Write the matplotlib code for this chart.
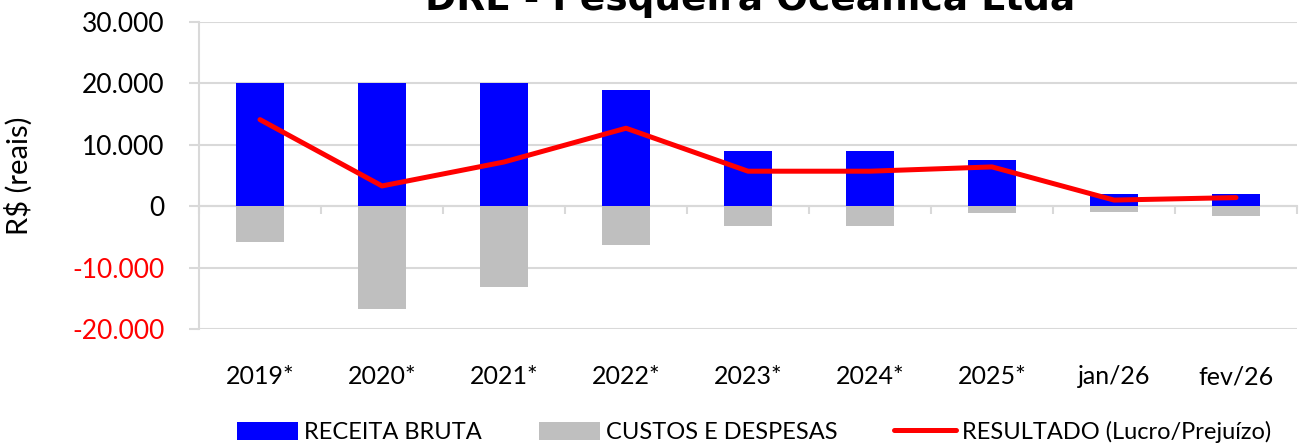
import matplotlib
matplotlib.use("Agg")
import matplotlib.pyplot as plt
import matplotlib.ticker as mticker
import numpy as np

# values (R$)
categorias = ["2019*", "2020*", "2021*", "2022*", "2023*", "2024*", "2025*", "jan/26", "fev/26"]
receita_bruta = [20000, 20000, 20000, 19000, 9000, 9000, 7500, 2000, 2000]
custos_despesas = [-5900, -16700, -13100, -6400, -3300, -3300, -1100, -1000, -1600]
resultado = [14100, 3300, 7200, 12700, 5700, 5700, 6400, 1000, 1400]

plt.rcParams["font.family"] = ["Lato", "DejaVu Sans"]

fig = plt.figure(figsize=(13.03, 4.45), dpi=100)
ax = fig.add_axes([199 / 1303, 1 - 329 / 445, (1297 - 199) / 1303, (329 - 22) / 445])

x = np.arange(len(categorias))
b1 = ax.bar(x, receita_bruta, width=0.4, color="#0000FF", label="RECEITA BRUTA", zorder=2)
b2 = ax.bar(x, custos_despesas, width=0.4, color="#BFBFBF", label="CUSTOS E DESPESAS", zorder=2)
l1, = ax.plot(x, resultado, color="#FF0000", lw=3.6, solid_capstyle="round",
              label="RESULTADO (Lucro/Prejuízo)", zorder=3)

ax.set_xlim(-0.5, len(categorias) - 0.5)
ax.set_ylim(-20000, 30000)
ax.yaxis.set_major_locator(mticker.MultipleLocator(10000))
ax.yaxis.set_major_formatter(mticker.FuncFormatter(
    lambda v, p: "0" if v == 0 else f"{v:,.0f}".replace(",", ".")))
ax.grid(axis="y", color="#D9D9D9", lw=1.5, zorder=0)
ax.set_axisbelow(True)

for s in ["top", "right", "bottom"]:
    ax.spines[s].set_visible(False)
ax.spines["left"].set_color("#D9D9D9")
ax.spines["left"].set_linewidth(1.5)

ax.tick_params(axis="y", length=7, width=1.5, color="#D9D9D9", labelsize=19, pad=18)
ax.tick_params(axis="x", length=0, labelsize=18, pad=26)
ax.set_xticks(x)
ax.set_xticklabels(categorias)
for t in ax.get_yticklabels():
    if t.get_text().startswith("-"):
        t.set_color("#FF0000")

# zero line with category separators
zero_pos = (0 - ax.get_ylim()[0]) / (ax.get_ylim()[1] - ax.get_ylim()[0])
sec = ax.secondary_xaxis(zero_pos)
sec.set_xticks(np.arange(len(categorias) + 1) - 0.5)
sec.set_xticklabels([])
sec.tick_params(length=6, width=1.5, color="#D9D9D9")
sec.spines["bottom"].set_color("#D9D9D9")
sec.spines["bottom"].set_linewidth(1.5)

ax.set_ylabel("R$ (reais)", fontsize=21, labelpad=28)

fig.text(750 / 1303, 1 - 10 / 445, "DRE - Pesqueira Oceânica Ltda", ha="center", va="baseline",
         fontsize=27, fontweight="bold", family="DejaVu Sans")

fig.legend(handles=[b1, b2, l1], loc="center", bbox_to_anchor=(754 / 1303, 1 - 432 / 445),
           ncol=3, frameon=False, fontsize=17, handlelength=2.6, handleheight=0.8,
           handletextpad=0.25, columnspacing=2.4)

fig.savefig("out.png", dpi=100)
